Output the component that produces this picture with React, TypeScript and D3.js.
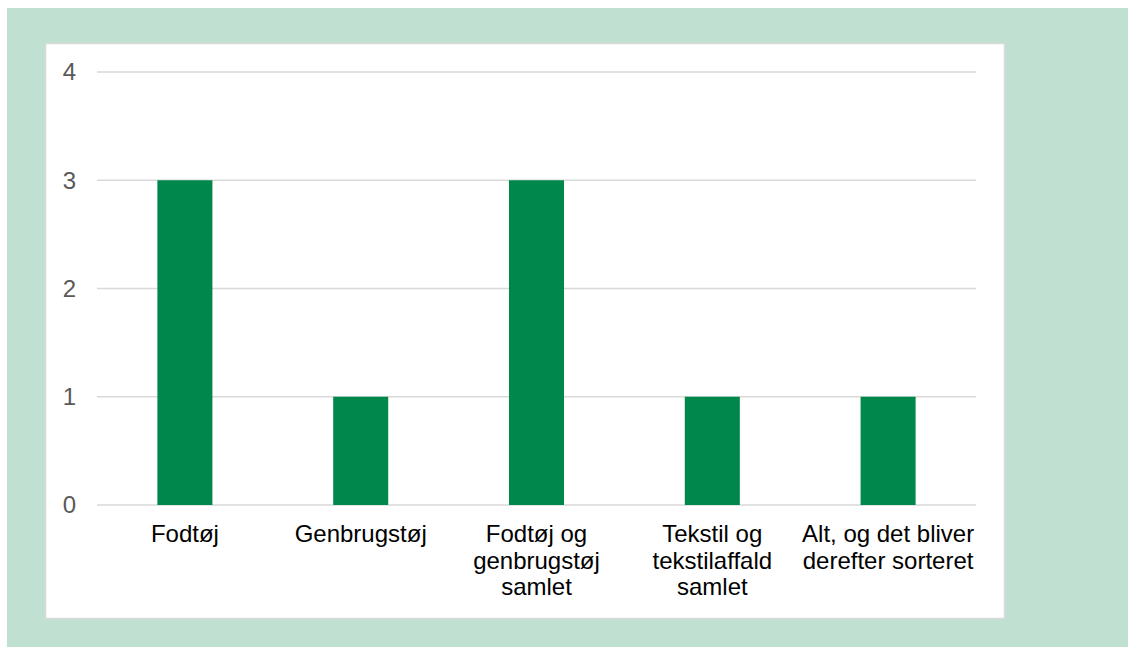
import React from "react";
import * as d3 from "d3";

const categories: string[][] = [
  ["Fodtøj"],
  ["Genbrugstøj"],
  ["Fodtøj og", "genbrugstøj", "samlet"],
  ["Tekstil og", "tekstilaffald", "samlet"],
  ["Alt, og det bliver", "derefter sorteret"],
];
const values: number[] = [3, 1, 3, 1, 1];
const yTicks: number[] = [0, 1, 2, 3, 4];

const W = 1128;
const H = 647;
const plot = { left: 97, right: 976, top: 72, bottom: 505 };

export default function App() {
  const keys = categories.map((c) => c.join(" "));
  const x = d3
    .scaleBand<string>()
    .domain(keys)
    .range([plot.left, plot.right])
    .paddingInner(0.687)
    .paddingOuter(0.3435);
  const y = d3.scaleLinear().domain([0, 4]).range([plot.bottom, plot.top]);

  return (
    <svg
      width={W}
      height={H}
      style={{ position: "absolute", left: 0, top: 0 }}
      fontFamily="'Liberation Sans', Arial, sans-serif"
    >
      <rect x={0} y={0} width={W} height={H} fill="#ffffff" />
      <rect x={7} y={8} width={W - 7} height={H - 8} fill="#c0e1d2" />
      <rect x={45.5} y={43.5} width={959} height={575} fill="#ffffff" stroke="#d9d9d9" strokeWidth={1.5} />
      {yTicks.map((t) => (
        <g key={t}>
          <line
            x1={plot.left}
            x2={plot.right}
            y1={y(t)}
            y2={y(t)}
            stroke="#d9d9d9"
            strokeWidth={1.5}
          />
          <text
            x={76}
            y={y(t)}
            dy="0.35em"
            textAnchor="end"
            fontSize={24}
            fill="#595959"
          >
            {t}
          </text>
        </g>
      ))}
      {values.map((v, i) => (
        <rect
          key={keys[i]}
          x={x(keys[i])!}
          y={y(v)}
          width={x.bandwidth()}
          height={y(0) - y(v)}
          fill="#00874b"
        />
      ))}
      {categories.map((lines, i) => {
        const cx = x(keys[i])! + x.bandwidth() / 2;
        return (
          <text key={keys[i]} x={cx} y={542} textAnchor="middle" fontSize={24} fill="#000000">
            {lines.map((l, j) => (
              <tspan key={j} x={cx} dy={j === 0 ? 0 : 26.5}>
                {l}
              </tspan>
            ))}
          </text>
        );
      })}
    </svg>
  );
}
